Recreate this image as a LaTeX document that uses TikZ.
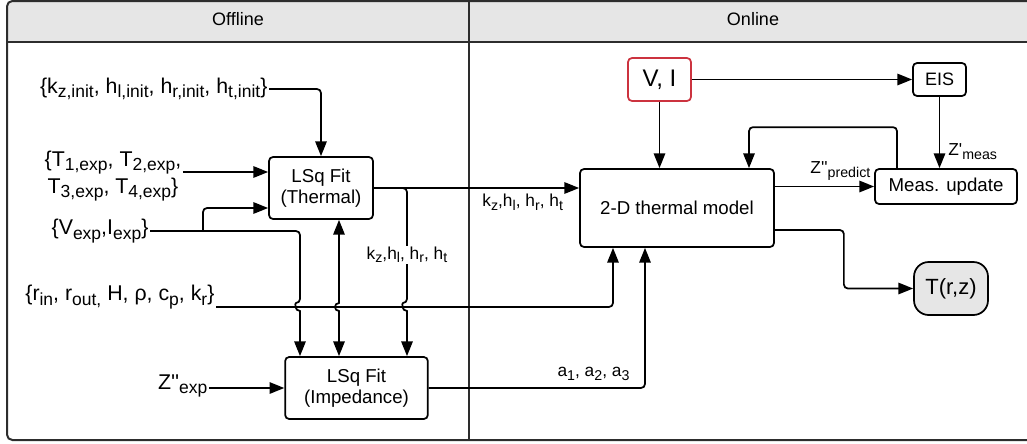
\documentclass[tikz,border=0pt]{standalone}
\usepackage{fontspec}
\usepackage{graphicx}
\newfontfamily\arialfont{Liberation Sans}
\usetikzlibrary{arrows.meta}
\tikzset{>={Triangle[length=11pt,width=8.5pt]}}
\usetikzlibrary{calc}
\definecolor{headgray}{RGB}{230,230,230}
\definecolor{termgray}{RGB}{230,230,230}
\definecolor{vired}{RGB}{204,51,63}
\definecolor{framegray}{RGB}{45,45,45}
\newcommand{\fhead}{\arialfont\fontsize{13.5}{16}\selectfont}
\newcommand{\fnode}{\arialfont\fontsize{14}{16}\selectfont}
\newcommand{\feis}{\arialfont\fontsize{13.5}{16}\selectfont}
\newcommand{\fvi}{\arialfont\fontsize{18}{20}\selectfont}
\newcommand{\fterm}{\arialfont\fontsize{16.5}{18}\selectfont}
\newcommand{\finput}{\arialfont\fontsize{16}{20}\selectfont}
\newcommand{\flabel}{\arialfont\fontsize{13}{15}\selectfont}
\newcommand{\sbs}[1]{\raisebox{-0.2em}{\scalebox{0.82}{#1}}}
\tikzstyle{block} = [rectangle, rounded corners=3pt, draw=black, line width=1.3pt, align=center, inner sep=0pt, font=\fnode]
\tikzstyle{source} = [block, draw=vired, font=\fvi]
\tikzstyle{term} = [block, rounded corners=11pt, fill=termgray, font=\fterm]
\tikzstyle{invar} = [inner sep=1pt, align=center, font=\finput]
\tikzstyle{lbl} = [inner sep=1pt, font=\flabel]
\tikzstyle{head} = [inner sep=0pt, font=\fhead]
\tikzstyle{frame} = [line width=1.5pt, draw=framegray]
\tikzstyle{arrow} = [line width=1.3pt, ->, rounded corners=3pt]

\begin{document}
\begin{tikzpicture}[x=0.75pt,y=-0.75pt]
\useasboundingbox (0,0) rectangle (1027,443);
% swimlanes
\fill [headgray, rounded corners=4pt] (7,1) rectangle (1040,42);
\draw [frame, rounded corners=4pt] (7,1) rectangle (1040,440);
\draw [frame] (7,42) -- (1040,42);
\draw [frame] (469,1) -- (469,440);
\node (offl) [head] at (238,19) {Offline};
\node (onl) [head] at (753,19) {Online};

% boxes
\node (therm) [block, minimum width=78pt, minimum height=46.5pt] at (321,188) {LSq Fit\\(Thermal)};
\node (imp) [block, minimum width=107pt, minimum height=46.5pt] at (356.5,388) {LSq Fit\\(Impedance)};
\node (model) [block, minimum width=145.5pt, minimum height=58.5pt] at (677,208) {2-D thermal model};
\node (meas) [block, minimum width=106.5pt, minimum height=26.25pt] at (946,186.5) {Meas. update};
\node (vi) [source, minimum width=47.25pt, minimum height=32.25pt] at (659.5,79.5) {V, I};
\node (eis) [block, font=\feis, minimum width=39.75pt, minimum height=24.75pt] at (939.5,79.5) {EIS};
\node (temp) [term, minimum width=55.5pt, minimum height=39.75pt] at (951,288.5) {T(r,z)};

% inputs
\node (kinit) [invar, anchor=east] at (269,89) {\{k\sbs{z,init}, h\sbs{l,init}, h\sbs{r,init}, h\sbs{t,init}\}};
\node (texp) [invar] at (113,176) {\{T\sbs{1,exp}, T\sbs{2,exp},\\T\sbs{3,exp}, T\sbs{4,exp}\}};
\node (vexp) [invar, anchor=east] at (150,231) {\{V\sbs{exp},I\sbs{exp}\}};
\node (rin) [invar, anchor=east] at (216,297) {\{r\sbs{in}, r\sbs{out,} H, ρ, c\sbs{p}, k\sbs{r}\}};
\node (zexp) [invar, anchor=east] at (209,386) {Z''\sbs{exp}};

\coordinate (splitv) at (203,231);
\coordinate (hopv) at (300,307);
\coordinate (hopd) at (339,307);
\coordinate (hopk) at (407,307);
\coordinate (tin) at ([yshift=12pt]therm.west);
\coordinate (vin) at ([yshift=-15pt]therm.west);

% offline
\draw [arrow] (kinit.east) -| (therm.north);
\draw [arrow] (tin -| texp.east) -- (tin);
\draw [arrow] (rin.east |- hopv) -| ([xshift=-48pt]model.south);
\draw [arrow] (vexp.east) -| ($(hopv)+(0,-4)$) [sharp corners] .. controls +(-5.3,0) and +(-5.3,0) .. ($(hopv)+(0,4)$) -- (hopv |- imp.north);
\draw [arrow] (splitv) |- (vin);
\draw [arrow, sharp corners, <->] (hopd |- therm.south) -- ($(hopd)+(0,-4)$) .. controls +(-5.3,0) and +(-5.3,0) .. ($(hopd)+(0,4)$) -- (hopd |- imp.north);
\draw [arrow] (therm.east) -| ($(hopk)+(0,-4)$) [sharp corners] .. controls +(-5.3,0) and +(-5.3,0) .. ($(hopk)+(0,4)$) -- (hopk |- imp.north);
\node (kzoff) [lbl, fill=white] at (407,255) {k\sbs{z},h\sbs{l}, h\sbs{r}, h\sbs{t}};
\draw [arrow] (zexp.east |- imp.west) -- (imp.west);

% online
\draw [arrow] (therm.east) -- (therm.east -| model.west) node [lbl, pos=0.725, below, yshift=-3pt] {k\sbs{z},h\sbs{l}, h\sbs{r}, h\sbs{t}};
\draw [arrow] (imp.east) -| ([xshift=-24pt]model.south) node [lbl, pos=0.5, anchor=south east, xshift=-10pt, yshift=4pt] {a\sbs{1}, a\sbs{2}, a\sbs{3}};
\draw [arrow] (vi.east) -- (eis.west);
\draw [arrow] (vi.south) -- (vi.south |- model.north);
\draw [arrow] (eis.south) -- (eis.south |- meas.north) node [lbl, pos=0.77, right, xshift=5pt] {Z'\sbs{meas}};
\draw [arrow] (model.east |- meas.west) -- (meas.west) node [lbl, pos=0.66, above, yshift=3pt] {Z''\sbs{predict}};
\draw [arrow] ([xshift=-36.75pt]meas.north) -- ++(0,-41) -| ([xshift=54pt]model.north);
\draw [arrow] ([yshift=-16.5pt]model.east) -- ++(69,0) |- (temp.west);
\end{tikzpicture}
\end{document}
